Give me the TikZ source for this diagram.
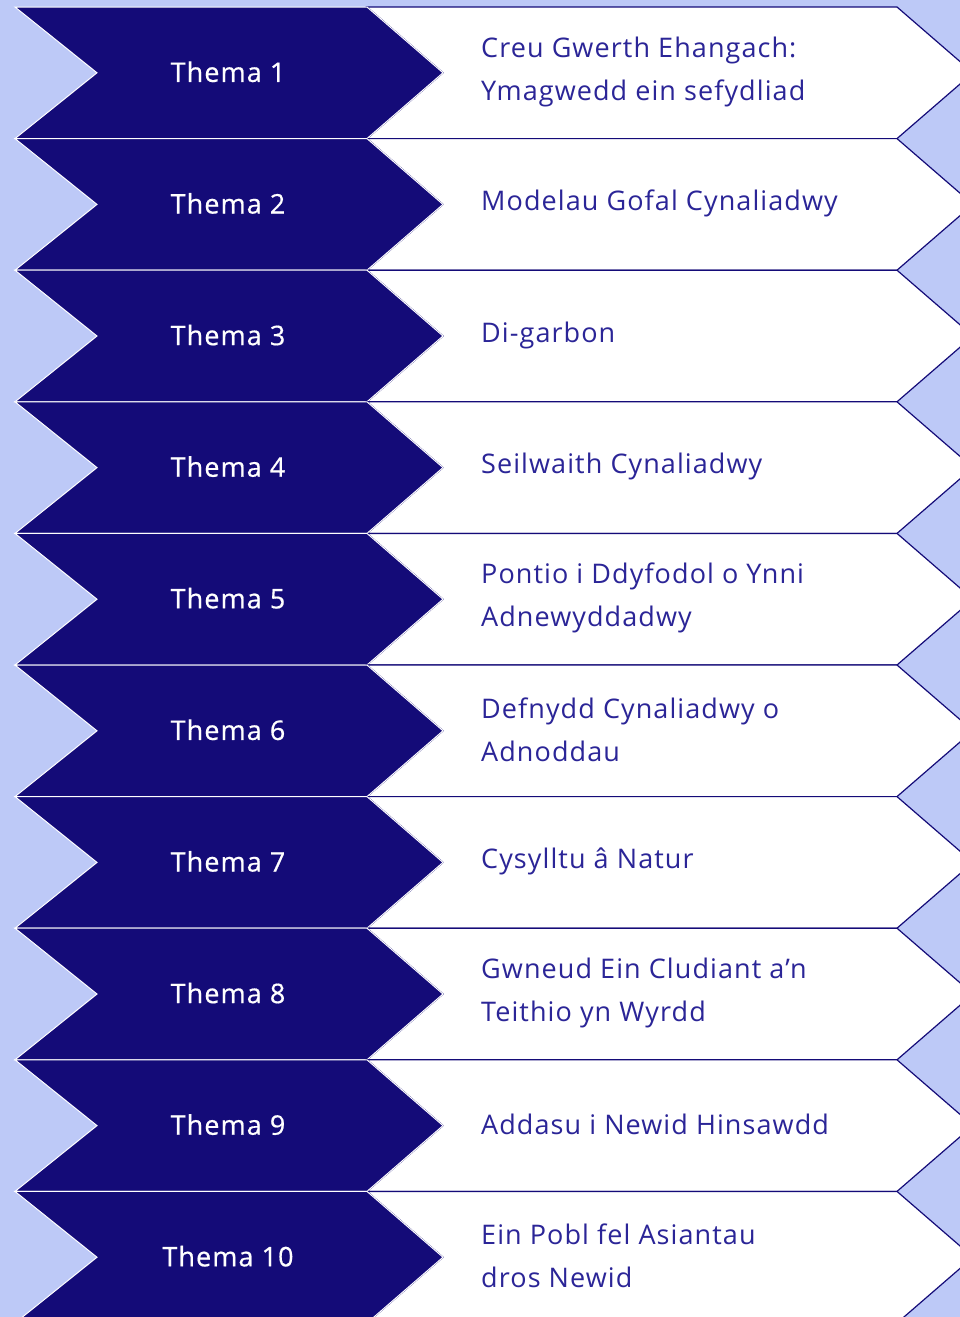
\documentclass[tikz,border=0pt]{standalone}
\usepackage{fontspec}
\setmainfont[LetterSpace=4]{Open Sans}
\newfontfamily\themafont[FakeBold=0.6,LetterSpace=4]{Open Sans}
\usetikzlibrary{positioning}
\definecolor{themanavy}{HTML}{140B78}
\definecolor{themablue}{HTML}{2B2597}
\definecolor{themabg}{HTML}{BDC9F7}

\begin{document}
\begin{tikzpicture}[
    x=1pt, y=-1pt,
    darkarrow/.style={fill=themanavy, draw=white, line width=1pt, line join=miter},
    lightarrow/.style={fill=white, draw=themanavy, line width=1.2pt, line join=miter},
    themelabel/.style={text=white, font=\themafont\fontsize{27}{32}\selectfont},
    titlelabel/.style={text=themablue, font=\fontsize{27}{43}\selectfont, align=left, anchor=west, inner sep=0pt}
]
\useasboundingbox (0,0) rectangle (960,1317);
\fill[themabg] (0,0) rectangle (960,1317);
\clip (0,0) rectangle (960,1317);

% one row per theme
\foreach \k/\title in {1/{Creu Gwerth Ehangach:\\Ymagwedd ein sefydliad},
    2/{Modelau Gofal Cynaliadwy},
    3/{Di-garbon},
    4/{Seilwaith Cynaliadwy},
    5/{Pontio i Ddyfodol o Ynni\\Adnewyddadwy},
    6/{Defnydd Cynaliadwy o\\Adnoddau},
    7/{Cysylltu â Natur},
    8/{Gwneud Ein Cludiant a’n\\Teithio yn Wyrdd},
    9/{Addasu i Newid Hinsawdd},
    10/{Ein Pobl fel Asiantau\\dros Newid}} {
  \pgfmathsetmacro\rowtop{7+131.6*(\k-1)}
  \pgfmathsetmacro\rowmid{\rowtop+65.8}
  \pgfmathsetmacro\rowbot{\rowtop+131.6}
  \draw[lightarrow] (367,\rowtop) -- (897,\rowtop) -- (973,\rowmid) -- (897,\rowbot)
    -- (367,\rowbot) -- (443,\rowmid) -- cycle;
  \draw[darkarrow] (15,\rowtop) -- (367,\rowtop) -- (443,\rowmid) -- (367,\rowbot)
    -- (15,\rowbot) -- (97,\rowmid) -- cycle;
  \node[themelabel] (thema\k) at (228,\rowmid-1) {Thema \k};
  \node[titlelabel] (title\k) at (481,\rowmid-1) {\title};
}
\end{tikzpicture}
\end{document}
